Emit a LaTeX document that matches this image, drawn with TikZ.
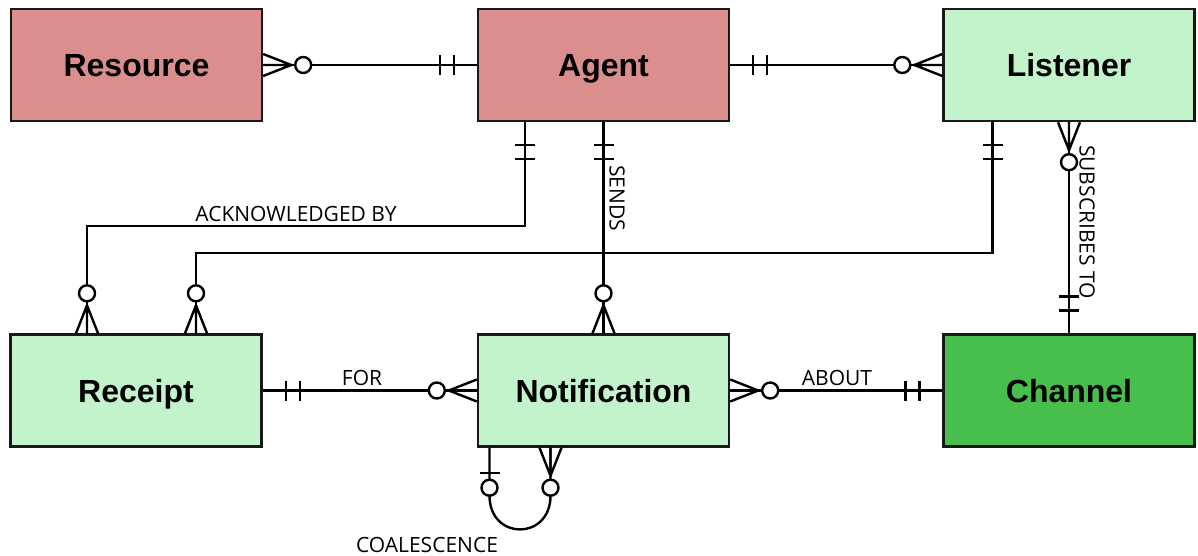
\documentclass[tikz,border=0pt]{standalone}
\usepackage{fontspec}
\setsansfont{Liberation Sans}
\newfontfamily\relfont{Open Sans}
\definecolor{corered}{HTML}{DB8E8E}
\definecolor{palegreen}{HTML}{C3F3CA}
\definecolor{darkgreen}{HTML}{48BF4C}
\tikzset{
  % cardinality ends, drawn pointing away from the entity
  mandone/.pic={\draw (23,-10) -- (23,10) (37,-10) -- (37,10);},
  optone/.pic={\draw (25,-10) -- (25,10);
    \draw[fill=white] (40,0) circle[radius=8];},
  optmany/.pic={\draw (0,-11) -- (28,0) -- (0,11) (0,0) -- (28,0);
    \draw[fill=white] (40,0) circle[radius=8];},
}
\begin{document}
\begin{tikzpicture}[x=1pt, y=-1pt, line width=2.4pt,
    entity/.style={draw=black!90, minimum width=251pt, minimum height=112pt,
      text height=31pt, text depth=8pt,
      font=\sffamily\bfseries\fontsize{32}{38}\selectfont},
    relname/.style={font=\relfont\fontsize{21}{25}\selectfont, inner sep=0pt}]
  \useasboundingbox (0,0) rectangle (1198,556);

  % Entities
  \node[entity, fill=corered] (resource) at (136.5,65) {Resource};
  \node[entity, fill=corered] (agent) at (603.5,65) {Agent};
  \node[entity, fill=palegreen] (listener) at (1069,65) {Listener};
  \node[entity, fill=palegreen] (receipt) at (136,390.5) {Receipt};
  \node[entity, fill=palegreen] (notification) at (603.5,390.5) {Notification};
  \node[entity, fill=darkgreen] (channel) at (1069,390.5) {Channel};

  % Relationships
  \draw (resource) -- (agent);
  \draw (agent) -- (listener);
  \draw (agent) -- (notification);
  \draw (listener) -- (channel);
  \draw (receipt) -- (notification);
  \draw (notification) -- (channel);
  \draw ([xshift=-78.5pt]agent.south) -- ++(0,104) -| ([xshift=-49pt]receipt.north);
  \draw ([xshift=-76.5pt]listener.south) -- ++(0,131) -| ([xshift=60pt]receipt.north);
  \draw ([xshift=-114pt]notification.south) -- ++(0,48)
    .. controls +(0,45) and +(0,45) .. ([xshift=-53pt,yshift=-48pt]notification.south)
    -- ([xshift=-53pt]notification.south);

  % Cardinalities
  \pic at (resource.east) {optmany};
  \pic[rotate=180] at (agent.west) {mandone};
  \pic at (agent.east) {mandone};
  \pic[rotate=180] at (listener.west) {optmany};
  \pic[rotate=-90] at ([xshift=-78.5pt]agent.south) {mandone};
  \pic[rotate=-90] at (agent.south) {mandone};
  \pic[rotate=-90] at ([xshift=-76.5pt]listener.south) {mandone};
  \pic[rotate=-90] at (listener.south) {optmany};
  \pic[rotate=90] at ([xshift=-49pt]receipt.north) {optmany};
  \pic[rotate=90] at ([xshift=60pt]receipt.north) {optmany};
  \pic[rotate=90] at (notification.north) {optmany};
  \pic[rotate=90] at (channel.north) {mandone};
  \pic at (receipt.east) {mandone};
  \pic[rotate=180] at (notification.west) {optmany};
  \pic at (notification.east) {optmany};
  \pic[rotate=180] at (channel.west) {mandone};
  \pic[rotate=-90] at ([xshift=-114pt]notification.south) {optone};
  \pic[rotate=-90] at ([xshift=-53pt]notification.south) {optmany};

  % Labels
  \node[relname] (acklabel) at (296,214) {ACKNOWLEDGED BY};
  \node[relname] (forlabel) at (362,378) {FOR};
  \node[relname] (aboutlabel) at (837,378) {ABOUT};
  \node[relname, rotate=-90] (sendslabel) at (617,198) {SENDS};
  \node[relname, rotate=-90] (subslabel) at (1087,222) {SUBSCRIBES TO};
  \node[relname] (coallabel) at (427,545) {COALESCENCE};
\end{tikzpicture}
\end{document}
